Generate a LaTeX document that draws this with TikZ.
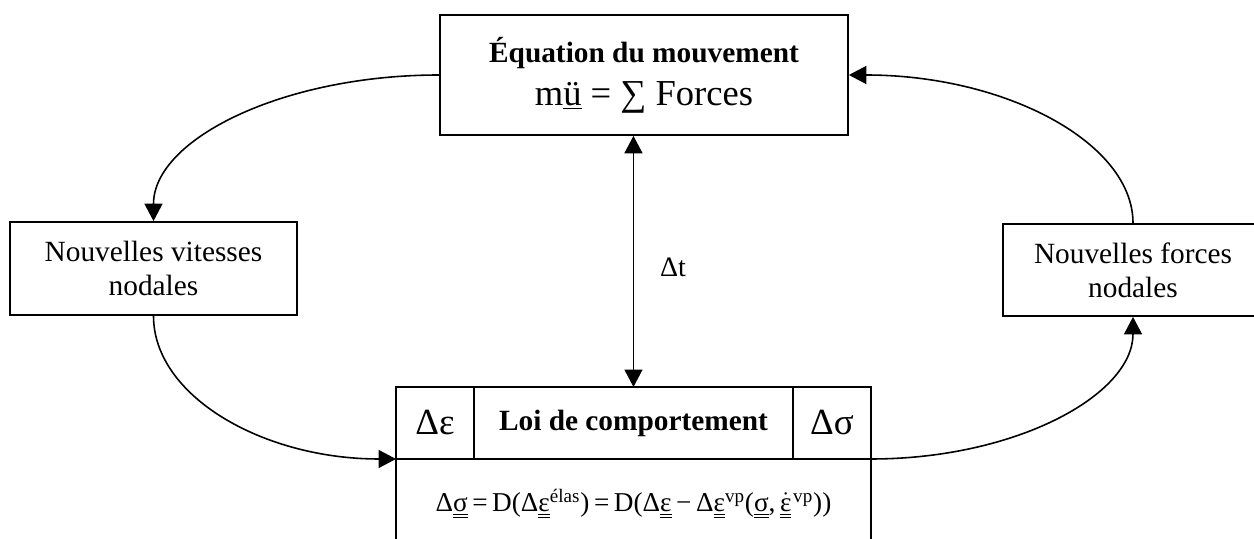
\documentclass[tikz,border=0pt]{standalone}
\usepackage{fontspec}
\setmainfont{Liberation Serif}
\usepackage{tikz}
\usetikzlibrary{arrows.meta,positioning}
\newcommand{\dund}[1]{\underline{\underline{#1}}}
\newcommand{\textpt}{\fontsize{16.7}{19.3}\selectfont}
\newcommand{\bigpt}{\fontsize{21}{24}\selectfont}
\tikzset{
  block/.style={draw,line width=1pt,minimum height=1.86cm,align=center,font=\textpt,inner sep=0pt},
  cell/.style={draw,line width=1pt,minimum height=1.44cm,outer sep=0pt,inner sep=0pt,align=center},
  arrow/.style={-{Triangle[length=3.5mm,width=3.6mm]},line width=0.9pt},
  dblarrow/.style={{Triangle[length=3.5mm,width=3.6mm]}-{Triangle[length=3.5mm,width=3.6mm]},line width=0.9pt}
}

\begin{document}
\begin{tikzpicture}[x=0.02cm,y=0.02cm]
\useasboundingbox (0,0) rectangle (1254,538);
\node[block,minimum width=8.16cm,minimum height=2.4cm] (motion) at (644,463) {{\bfseries Équation du mouvement}\\[5pt]{\fontsize{20.8}{24}\selectfont m\underline{ü} = ∑ Forces}};
\node[block,minimum width=5.74cm] (speeds) at (153.5,269.5) {Nouvelles vitesses\\nodales};
\node[block,minimum width=5.2cm,minimum height=1.84cm] (forces) at (1133,268) {Nouvelles forces\\nodales};
\node[cell,minimum width=1.56cm,font=\bigpt] (deps) at (435,115) {Δε};
\node[cell,minimum width=6.38cm,right=0pt of deps,font=\textpt\bfseries] (law) {Loi de comportement};
\node[cell,minimum width=1.56cm,right=0pt of law,font=\bigpt] (dsig) {Δσ};
\node[cell,minimum width=9.5cm,minimum height=1.8cm,anchor=north west,font=\fontsize{15.5}{18}\selectfont] (rule) at (deps.south west)
  {Δ\dund{σ}\,=\,D(Δ\dund{ε}\textsuperscript{élas})\,=\,D(Δ\dund{ε}\,−\,Δ\dund{ε}\textsuperscript{vp}(\dund{σ},\,\dund{$\dot{\hbox{ε}}$}\kern1pt\textsuperscript{vp}))};
\draw[dblarrow] (motion.south -| law.north) -- node[right=4mm,yshift=-1.2mm,font=\fontsize{16}{18}\selectfont]{Δt} (law.north);
\draw[arrow] (motion.west) to[out=180,in=90,out looseness=1.25,in looseness=0.65] (speeds.north);
\draw[arrow] (speeds.south) to[out=-90,in=180,out looseness=0.73,in looseness=1.21] (rule.north west);
\draw[arrow] (rule.north east) to[out=0,in=-90,out looseness=1.24,in looseness=0.67] (forces.south);
\draw[arrow] (forces.north) to[out=90,in=0,out looseness=0.64,in looseness=1.25] (motion.east);
\end{tikzpicture}
\end{document}
